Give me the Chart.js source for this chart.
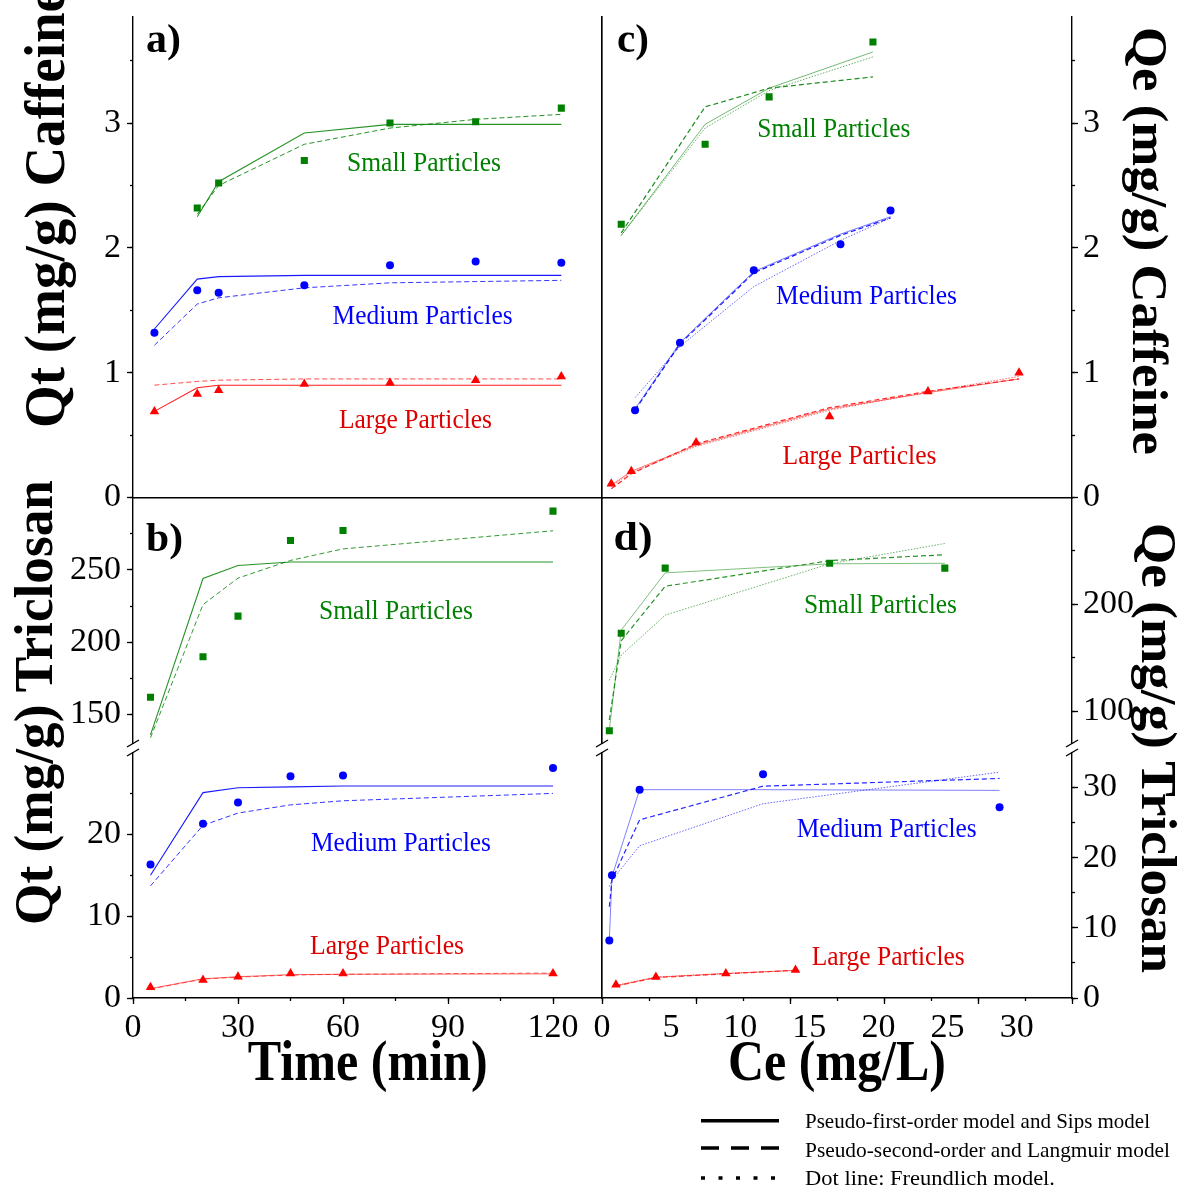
<!DOCTYPE html>
<html>
<head>
<meta charset="utf-8">
<script src="https://cdn.jsdelivr.net/npm/chart.js@4.4.1/dist/chart.umd.min.js"></script>
<style>
html,body{margin:0;padding:0;background:#fff;}
#wrap{position:relative;width:1177px;height:1189px;overflow:hidden;background:#fff;}
#wrap canvas{position:absolute;left:0;top:0;}
#ov{position:absolute;left:0;top:0;}
</style>
</head>
<body>
<div id="wrap">
<svg id="ov" width="1177" height="1189" xmlns="http://www.w3.org/2000/svg" font-family="'Liberation Serif', 'Times New Roman', serif">
  <g font-weight="bold" font-size="40" fill="#000">
    <text x="146" y="51.5" textLength="35" lengthAdjust="spacingAndGlyphs">a)</text>
    <text x="617" y="51.5" textLength="32" lengthAdjust="spacingAndGlyphs">c)</text>
    <text x="146" y="550.5" textLength="37" lengthAdjust="spacingAndGlyphs">b)</text>
    <text x="613.5" y="550" textLength="39" lengthAdjust="spacingAndGlyphs">d)</text>
  </g>
  <g font-weight="bold" fill="#000">
    <text font-size="56" transform="translate(64,428) rotate(-90)" textLength="440" lengthAdjust="spacingAndGlyphs">Qt (mg/g) Caffeine</text>
    <text font-size="54" transform="translate(52,925) rotate(-90)" textLength="445" lengthAdjust="spacingAndGlyphs">Qt (mg/g) Triclosan</text>
    <text font-size="50" transform="translate(1133,27) rotate(90)" textLength="428" lengthAdjust="spacingAndGlyphs">Qe (mg/g) Caffeine</text>
    <text font-size="50" transform="translate(1142,523) rotate(90)" textLength="450" lengthAdjust="spacingAndGlyphs">Qe (mg/g) Triclosan</text>
    <text font-size="56" x="247.7" y="1080" textLength="240" lengthAdjust="spacingAndGlyphs">Time (min)</text>
    <text font-size="56" x="728" y="1080" textLength="218" lengthAdjust="spacingAndGlyphs">Ce (mg/L)</text>
  </g>
  <g font-size="27">
    <text x="347" y="171" fill="#008000" textLength="154" lengthAdjust="spacingAndGlyphs">Small Particles</text>
    <text x="332.6" y="324" fill="#0000ff" textLength="180" lengthAdjust="spacingAndGlyphs">Medium Particles</text>
    <text x="339" y="428" fill="#dd0000" textLength="153" lengthAdjust="spacingAndGlyphs">Large Particles</text>
    <text x="757.3" y="136.7" fill="#008000" textLength="153" lengthAdjust="spacingAndGlyphs">Small Particles</text>
    <text x="776" y="304" fill="#0000ff" textLength="181" lengthAdjust="spacingAndGlyphs">Medium Particles</text>
    <text x="782.5" y="464" fill="#dd0000" textLength="154" lengthAdjust="spacingAndGlyphs">Large Particles</text>
    <text x="319" y="619" fill="#008000" textLength="154" lengthAdjust="spacingAndGlyphs">Small Particles</text>
    <text x="311" y="850.7" fill="#0000ff" textLength="180" lengthAdjust="spacingAndGlyphs">Medium Particles</text>
    <text x="310" y="954" fill="#dd0000" textLength="154" lengthAdjust="spacingAndGlyphs">Large Particles</text>
    <text x="804" y="613" fill="#008000" textLength="153" lengthAdjust="spacingAndGlyphs">Small Particles</text>
    <text x="796.7" y="836.7" fill="#0000ff" textLength="180" lengthAdjust="spacingAndGlyphs">Medium Particles</text>
    <text x="811.7" y="965" fill="#dd0000" textLength="153" lengthAdjust="spacingAndGlyphs">Large Particles</text>
  </g>
  <g stroke="#000" stroke-width="1.4">
    <line x1="127" y1="747" x2="139" y2="740"/>
    <line x1="127" y1="756" x2="139" y2="749"/>
    <line x1="596" y1="747" x2="608" y2="740"/>
    <line x1="596" y1="756" x2="608" y2="749"/>
    <line x1="1066" y1="747" x2="1078" y2="740"/>
    <line x1="1066" y1="756" x2="1078" y2="749"/>
  </g>
  <g stroke="#000" stroke-width="3.5">
    <line x1="701" y1="1120.7" x2="779" y2="1120.7"/>
    <line x1="701" y1="1148" x2="779" y2="1148" stroke-dasharray="18 12"/>
    <line x1="701" y1="1178" x2="779" y2="1178" stroke-dasharray="4 13.5"/>
  </g>
  <g font-size="22" fill="#000">
    <text x="805" y="1128.3" textLength="345" lengthAdjust="spacingAndGlyphs">Pseudo-first-order model and Sips model</text>
    <text x="805" y="1156.7" textLength="365" lengthAdjust="spacingAndGlyphs">Pseudo-second-order and Langmuir model</text>
    <text x="805" y="1185" textLength="250" lengthAdjust="spacingAndGlyphs">Dot line: Freundlich model.</text>
  </g>
</svg>
</div>
<script>
// ---------- DATA ----------
// Panel a: caffeine kinetics (time, min)
const aTime      = [5, 15, 20, 40, 60, 80, 100];
const aSmallTime = [15, 20, 40, 60, 80, 100];
const aSmallObs  = [2.32, 2.52, 2.70, 3.00, 3.01, 3.12];
const aSmallPFO  = [2.25, 2.53, 2.92, 2.99, 2.99, 2.99];
const aSmallPSO  = [2.27, 2.50, 2.83, 2.96, 3.03, 3.07];
const aMedObs    = [1.32, 1.66, 1.64, 1.70, 1.86, 1.89, 1.88];
const aMedPFO    = [1.35, 1.75, 1.77, 1.78, 1.78, 1.78, 1.78];
const aMedPSO    = [1.22, 1.55, 1.60, 1.68, 1.72, 1.73, 1.74];
const aLargeObs  = [0.69, 0.83, 0.86, 0.91, 0.92, 0.94, 0.97];
const aLargePFO  = [0.69, 0.88, 0.90, 0.90, 0.90, 0.90, 0.90];
const aLargePSO  = [0.90, 0.93, 0.94, 0.95, 0.95, 0.95, 0.95];

// Panel b: triclosan kinetics (time, min)
const bTime      = [5, 20, 30, 45, 60, 120];
const bSmallObs  = [162, 190, 218, 270.3, 277.2, 290.6];
const bSmallPFO  = [136, 244, 253, 255.4, 255.4, 255.4];
const bSmallPSO  = [134, 226, 244.3, 256.5, 264.5, 277];
const bMedObs    = [16.3, 21.3, 23.9, 27.1, 27.2, 28.1];
const bMedPFO    = [15.0, 25.1, 25.7, 25.8, 25.9, 25.9];
const bMedPSO    = [13.7, 21.1, 22.6, 23.6, 24.1, 25.0];
const bLargeObs  = [1.3, 2.2, 2.6, 3.0, 3.0, 3.0];
const bLargePFO  = [1.15, 2.35, 2.6, 2.85, 2.9, 2.95];
const bLargePSO  = [1.1, 2.3, 2.55, 2.8, 2.9, 3.05];

// Panel c: caffeine isotherms (Ce, mg/L)
const cSmallCe   = [1.39, 7.46, 12.09, 19.6];
const cSmallObs  = [2.19, 2.83, 3.21, 3.65];
const cSmallSips = [2.10, 2.99, 3.28, 3.57];
const cSmallLang = [2.12, 3.13, 3.28, 3.37];
const cSmallFreu = [2.10, 2.96, 3.26, 3.53];
const cMedCe     = [2.39, 5.64, 10.98, 17.25, 20.87];
const cMedObs    = [0.70, 1.24, 1.82, 2.03, 2.30];
const cMedSips   = [0.71, 1.24, 1.81, 2.11, 2.25];
const cMedLang   = [0.70, 1.23, 1.80, 2.10, 2.24];
const cMedFreu   = [0.80, 1.21, 1.69, 2.06, 2.24];
const cLargeCe   = [0.67, 2.12, 6.81, 16.47, 23.58, 30.17];
const cLargeObs  = [0.11, 0.21, 0.44, 0.65, 0.85, 1.00];
const cLargeSips = [0.10, 0.21, 0.42, 0.71, 0.84, 0.95];
const cLargeLang = [0.07, 0.19, 0.43, 0.72, 0.85, 0.95];
const cLargeFreu = [0.09, 0.20, 0.41, 0.70, 0.845, 0.97];

// Panel d: triclosan isotherms (Ce, mg/L)
const dSmallCe   = [0.53, 1.39, 4.57, 16.47, 24.8];
const dSmallObs  = [82, 173, 234, 238.5, 234];
const dSmallSips = [83, 176, 229.5, 238, 238.5];
const dSmallLang = [92, 166, 217, 241, 246.5];
const dSmallFreu = [129, 152.5, 190, 238, 257];
const dMedCe     = [0.53, 0.72, 2.72, 11.65, 28.76];
const dMedObs    = [8.2, 17.5, 29.7, 31.9, 27.2];
const dMedSips   = [8.2, 17.3, 29.7, 29.7, 29.6];
const dMedLang   = [13.0, 16.8, 25.4, 30.2, 31.3];
const dMedFreu   = [15.9, 16.8, 21.7, 27.7, 32.2];
const dLargeCe   = [1.01, 3.90, 8.96, 14.0];
const dLargeObs  = [1.9, 3.0, 3.5, 4.0];
const dLargeSips = [1.75, 2.95, 3.5, 3.95];
const dLargeLang = [1.7, 2.9, 3.45, 3.95];
const dLargeFreu = [1.8, 3.0, 3.5, 3.9];

// ---------- HELPERS ----------
const W = 1177, H = 1189;
const AX = 90;   // reserved width/height of a labelled axis
const FONT = "'Liberation Serif', 'Times New Roman', serif";
const GREEN = '#008000', BLUE = '#0000ff', RED = '#ff0000';

function fixSize(size) {
  return function (s) {
    if (s.isHorizontal()) s.height = size; else s.width = size;
    s.paddingTop = 0; s.paddingBottom = 0; s.paddingLeft = 0; s.paddingRight = 0;
  };
}
function limitTicks(lim) {
  return function (s) {
    if (lim !== undefined) s.ticks = s.ticks.filter(t => t.value <= lim + 1e-9);
  };
}
function labelAxis(axis, position, min, max, step, o) {
  return {
    type: 'linear', axis, position, min, max, weight: 2,
    ticks: { stepSize: step, includeBounds: false, autoSkip: false, maxRotation: 0, minRotation: 0,
      color: '#000', font: { family: FONT, size: 34 }, padding: o.padding,
      callback: (v) => String(v) },
    grid: { drawOnChartArea: false, drawTicks: o.tick > 0, tickLength: o.tick || 0, tickColor: '#000', tickWidth: 1.3 },
    border: { display: true, color: '#000', width: 1.4 },
    afterBuildTicks: limitTicks(o.lim),
    afterFit: fixSize(AX)
  };
}
function tickAxis(axis, position, min, max, step, len, lim) {
  return {
    type: 'linear', axis, position, min, max, weight: 1,
    ticks: { display: false, stepSize: step, includeBounds: false, autoSkip: false },
    grid: { drawOnChartArea: false, drawTicks: true, tickLength: len, tickColor: '#000', tickWidth: 1.3 },
    border: { display: false },
    afterBuildTicks: limitTicks(lim),
    afterFit: fixSize(0)
  };
}
function borderAxis(axis, position, min, max) {
  return {
    type: 'linear', axis, position, min: (min === undefined ? 0 : min), max: (max === undefined ? 1 : max), weight: 0,
    ticks: { display: false, includeBounds: false },
    grid: { display: false, drawOnChartArea: false, drawTicks: false },
    border: { display: true, color: '#000', width: 1.4 },
    afterFit: fixSize(0)
  };
}
function hiddenAxis(axis, position, min, max) {
  return { type: 'linear', axis, position, min, max, display: false };
}
function pts(xs, ys) { return xs.map((x, i) => ({ x: x, y: ys[i] })); }
function markers(xs, ys, color, style, r) {
  return { data: pts(xs, ys), showLine: false, pointStyle: style, pointRadius: r,
    pointBackgroundColor: color, pointBorderColor: color, pointBorderWidth: 0,
    xAxisID: 'x', yAxisID: 'y' };
}
function fitLine(xs, ys, color, dash, w) {
  return { data: pts(xs, ys), showLine: true, pointRadius: 0, borderColor: color,
    borderWidth: w, borderDash: dash, fill: false, tension: 0,
    xAxisID: 'x', yAxisID: 'y' };
}
const wrap = document.getElementById('wrap');
const ov = document.getElementById('ov');
function makeChart(padding, scales, datasets) {
  const c = document.createElement('canvas');
  c.width = W; c.height = H;
  c.style.width = W + 'px'; c.style.height = H + 'px';
  wrap.insertBefore(c, ov);
  return new Chart(c, {
    type: 'scatter',
    data: { datasets },
    options: {
      responsive: false, animation: false, devicePixelRatio: 1, events: [],
      layout: { padding },
      plugins: { legend: { display: false }, tooltip: { enabled: false } },
      scales
    }
  });
}
const DASH = [5, 3], DOT = [1.5, 1.5];
function rgba(c, a) {
  const m = { '#008000': '0,128,0', '#0000ff': '0,0,255', '#ff0000': '255,0,0' };
  return 'rgba(' + m[c] + ',' + a + ')';
}

// plot-area boxes
const LEFT_L = 133, LEFT_R = 602, RIGHT_L = 602, RIGHT_R = 1072;
const TOP_T = 17, TOP_B = 497.5, UP_T = 497.5, UP_B = 743.5, LO_T = 752.5, LO_B = 998;

// ---------- PANEL a ----------
makeChart({ left: LEFT_L - AX, right: W - LEFT_R, top: TOP_T, bottom: H - TOP_B }, {
  x: Object.assign(borderAxis('x', 'bottom', 0, 109.5), { weight: 2 }),
  y: labelAxis('y', 'left', 0, 3.85, 1, { tick: 6, padding: 6 }),
  ym: tickAxis('y', 'left', 0, 3.85, 0.5, 3),
  yr: borderAxis('y', 'right')
}, [
  markers(aSmallTime, aSmallObs, GREEN, 'rect', 5),
  markers(aTime, aMedObs, BLUE, 'circle', 4),
  markers(aTime, aLargeObs, RED, 'triangle', 5.5),
  fitLine(aSmallTime, aSmallPFO, rgba(GREEN, 0.85), [], 1.1),
  fitLine(aSmallTime, aSmallPSO, rgba(GREEN, 0.85), DASH, 1),
  fitLine(aTime, aMedPFO, rgba(BLUE, 0.9), [], 1.1),
  fitLine(aTime, aMedPSO, rgba(BLUE, 0.8), DASH, 1),
  fitLine(aTime, aLargePFO, rgba(RED, 0.9), [], 1.1),
  fitLine(aTime, aLargePSO, rgba(RED, 0.7), DASH, 1)
]);

// ---------- PANEL c ----------
makeChart({ left: RIGHT_L, right: W - RIGHT_R - AX, top: TOP_T, bottom: H - TOP_B }, {
  x: Object.assign(borderAxis('x', 'bottom', 0, 34), { weight: 2 }),
  y: labelAxis('y', 'right', 0, 3.85, 1, { tick: 6, padding: 5 }),
  ym: tickAxis('y', 'right', 0, 3.85, 0.5, 3),
  yl: borderAxis('y', 'left')
}, [
  markers(cSmallCe, cSmallObs, GREEN, 'rect', 5),
  markers(cMedCe, cMedObs, BLUE, 'circle', 4),
  markers(cLargeCe, cLargeObs, RED, 'triangle', 5.5),
  fitLine(cSmallCe, cSmallSips, rgba(GREEN, 0.55), [], 1),
  fitLine(cSmallCe, cSmallLang, rgba(GREEN, 0.9), DASH, 1.2),
  fitLine(cSmallCe, cSmallFreu, rgba(GREEN, 0.6), DOT, 1),
  fitLine(cMedCe, cMedSips, rgba(BLUE, 0.55), [], 1),
  fitLine(cMedCe, cMedLang, rgba(BLUE, 0.9), DASH, 1.2),
  fitLine(cMedCe, cMedFreu, rgba(BLUE, 0.6), DOT, 1),
  fitLine(cLargeCe, cLargeSips, rgba(RED, 0.55), [], 1),
  fitLine(cLargeCe, cLargeLang, rgba(RED, 0.85), DASH, 1.2),
  fitLine(cLargeCe, cLargeFreu, rgba(RED, 0.6), DOT, 1)
]);

// ---------- PANEL b (upper part, broken axis) ----------
makeChart({ left: LEFT_L - AX, right: W - LEFT_R, top: UP_T, bottom: H - UP_B }, {
  x: hiddenAxis('x', 'bottom', 0, 134),
  y: labelAxis('y', 'left', 130, 300, 50, { tick: 6, padding: 6, lim: 250 }),
  ym: tickAxis('y', 'left', 130, 300, 25, 3, 275),
  yr: borderAxis('y', 'right')
}, [
  markers(bTime, bSmallObs, GREEN, 'rect', 5),
  fitLine(bTime, bSmallPFO, rgba(GREEN, 0.85), [], 1.1),
  fitLine(bTime, bSmallPSO, rgba(GREEN, 0.8), DASH, 1)
]);

// ---------- PANEL b (lower part) ----------
makeChart({ left: LEFT_L - AX, right: W - LEFT_R, top: LO_T, bottom: H - LO_B - AX }, {
  x: labelAxis('x', 'bottom', 0, 134, 30, { tick: 6, padding: 4 }),
  xm: tickAxis('x', 'bottom', 0, 134, 15, 3),
  y: labelAxis('y', 'left', 0, 30, 10, { tick: 6, padding: 6, lim: 20 }),
  ym: tickAxis('y', 'left', 0, 30, 5, 3, 25),
  yr: borderAxis('y', 'right')
}, [
  markers(bTime, bMedObs, BLUE, 'circle', 4),
  markers(bTime, bLargeObs, RED, 'triangle', 5.5),
  fitLine(bTime, bMedPFO, rgba(BLUE, 0.9), [], 1.1),
  fitLine(bTime, bMedPSO, rgba(BLUE, 0.8), DASH, 1),
  fitLine(bTime, bLargePFO, rgba(RED, 0.6), [], 1),
  fitLine(bTime, bLargePSO, rgba(RED, 0.6), DASH, 1)
]);

// ---------- PANEL d (upper part, broken axis) ----------
makeChart({ left: RIGHT_L, right: W - RIGHT_R - AX, top: UP_T, bottom: H - UP_B }, {
  x: hiddenAxis('x', 'bottom', 0, 34),
  y: labelAxis('y', 'right', 70, 300, 100, { tick: 6, padding: 5, lim: 200 }),
  ym: tickAxis('y', 'right', 70, 300, 50, 3, 250),
  yl: borderAxis('y', 'left')
}, [
  markers(dSmallCe, dSmallObs, GREEN, 'rect', 5),
  fitLine(dSmallCe, dSmallSips, rgba(GREEN, 0.5), [], 1),
  fitLine(dSmallCe, dSmallLang, rgba(GREEN, 0.85), DASH, 1.2),
  fitLine(dSmallCe, dSmallFreu, rgba(GREEN, 0.6), DOT, 1)
]);

// ---------- PANEL d (lower part) ----------
makeChart({ left: RIGHT_L, right: W - RIGHT_R - AX, top: LO_T, bottom: H - LO_B - AX }, {
  x: labelAxis('x', 'bottom', 0, 34, 5, { tick: 0, padding: 10 }),
  xM: tickAxis('x', 'bottom', 0, 5, 1, 6),
  xm: tickAxis('x', 'bottom', 0, 10, 1, 3),
  y: labelAxis('y', 'right', 0, 35, 10, { tick: 6, padding: 5, lim: 30 }),
  ym: tickAxis('y', 'right', 0, 35, 5, 3, 30),
  yl: borderAxis('y', 'left')
}, [
  markers(dMedCe, dMedObs, BLUE, 'circle', 4),
  markers(dLargeCe, dLargeObs, RED, 'triangle', 5.5),
  fitLine(dMedCe, dMedSips, rgba(BLUE, 0.5), [], 1),
  fitLine(dMedCe, dMedLang, rgba(BLUE, 0.85), DASH, 1.2),
  fitLine(dMedCe, dMedFreu, rgba(BLUE, 0.6), DOT, 1),
  fitLine(dLargeCe, dLargeSips, rgba(RED, 0.5), [], 1),
  fitLine(dLargeCe, dLargeLang, rgba(RED, 0.7), DASH, 1.2),
  fitLine(dLargeCe, dLargeFreu, rgba(RED, 0.5), DOT, 1)
]);
</script>
</body>
</html>
